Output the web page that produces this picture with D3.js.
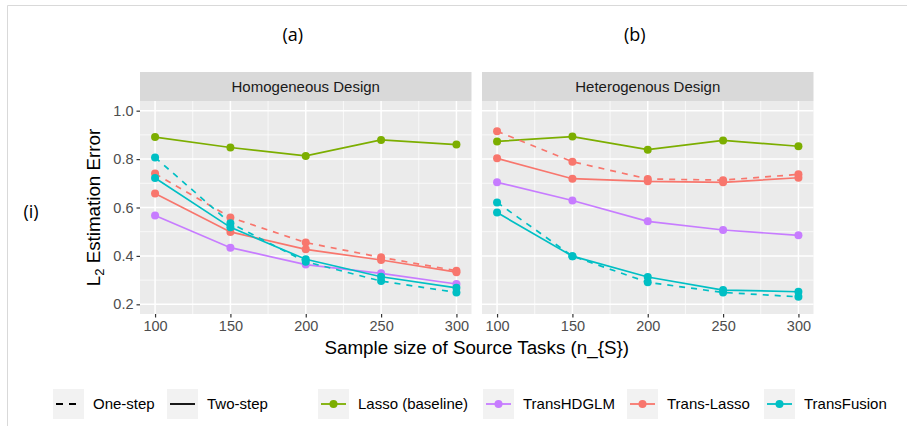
<!DOCTYPE html>
<html>
<head>
<meta charset="utf-8">
<script src="https://cdn.jsdelivr.net/npm/d3@7"></script>
<style>
  body { margin: 0; background: #fff; }
  text { font-family: "Liberation Sans", Arial, sans-serif; }
</style>
</head>
<body>
<div id="chart"></div>
<script>
const WIDTH = 907;
const HEIGHT = 426;

// --------------- Data ---------------
const sampleSizes = [100, 150, 200, 250, 300];
const designs = ["Homogeneous Design", "Heterogenous Design"];
const panelTags = ["(a)", "(b)"];
const methods = ["Lasso (baseline)", "TransHDGLM", "Trans-Lasso", "TransFusion"];
const methodColors = ["#7CAE00", "#C77CFF", "#F8766D", "#00BFC4"];
const steps = ["One-step", "Two-step"];
const yTicks = [0.2, 0.4, 0.6, 0.8, 1.0];

// Homogeneous design
const homLasso = [0.891, 0.848, 0.813, 0.879, 0.860];
const homHDGLM = [0.567, 0.434, 0.364, 0.328, 0.284];
const homTransLassoOne = [0.740, 0.559, 0.455, 0.394, 0.339];
const homTransLassoTwo = [0.658, 0.499, 0.427, 0.383, 0.333];
const homFusionOne = [0.807, 0.535, 0.376, 0.296, 0.249];
const homFusionTwo = [0.722, 0.518, 0.386, 0.314, 0.268];

// Heterogenous design
const hetLasso = [0.873, 0.893, 0.839, 0.877, 0.853];
const hetHDGLM = [0.704, 0.629, 0.543, 0.507, 0.485];
const hetTransLassoOne = [0.915, 0.789, 0.718, 0.713, 0.737];
const hetTransLassoTwo = [0.803, 0.719, 0.708, 0.704, 0.723];
const hetFusionOne = [0.621, 0.399, 0.291, 0.249, 0.231];
const hetFusionTwo = [0.579, 0.399, 0.313, 0.259, 0.252];

// series table built from the arrays above: [panel, method, step, values]
const series = [
  [0, 0, 1, homLasso],
  [0, 1, 1, homHDGLM],
  [0, 2, 0, homTransLassoOne],
  [0, 2, 1, homTransLassoTwo],
  [0, 3, 0, homFusionOne],
  [0, 3, 1, homFusionTwo],
  [1, 0, 1, hetLasso],
  [1, 1, 1, hetHDGLM],
  [1, 2, 0, hetTransLassoOne],
  [1, 2, 1, hetTransLassoTwo],
  [1, 3, 0, hetFusionOne],
  [1, 3, 1, hetFusionTwo]
];

// --------------- Layout ---------------
const PANEL_X = [140, 482];
const PANEL_W = 331.5;
const STRIP_TOP = 72;
const PANEL_TOP = 101;
const PANEL_BOTTOM = 314;
const DASH = "6,6";

const svg = d3.select("#chart")
  .append("svg")
  .attr("width", WIDTH)
  .attr("height", HEIGHT);

// outer frame (top and left only)
svg.append("path")
  .attr("d", `M7.5,${HEIGHT} V5.5 H${WIDTH}`)
  .attr("fill", "none")
  .attr("stroke", "#d9d9d9")
  .attr("stroke-width", 1);

const y = d3.scaleLinear().domain([0.16, 1.04]).range([PANEL_BOTTOM, PANEL_TOP]);

const line = d3.line()
  .x(d => d[0])
  .y(d => y(d[1]));

designs.forEach((name, p) => {
  const x = d3.scaleLinear()
    .domain([90, 310])
    .range([PANEL_X[p], PANEL_X[p] + PANEL_W]);

  const g = svg.append("g");

  // panel background
  g.append("rect")
    .attr("x", PANEL_X[p]).attr("y", PANEL_TOP)
    .attr("width", PANEL_W).attr("height", PANEL_BOTTOM - PANEL_TOP)
    .attr("fill", "#EBEBEB");

  // minor grid
  const xMinor = [125, 175, 225, 275];
  const yMinor = [0.3, 0.5, 0.7, 0.9];
  g.append("g").selectAll("line").data(xMinor).enter().append("line")
    .attr("x1", d => x(d)).attr("x2", d => x(d))
    .attr("y1", PANEL_TOP).attr("y2", PANEL_BOTTOM)
    .attr("stroke", "#fff").attr("stroke-width", 0.7);
  g.append("g").selectAll("line").data(yMinor).enter().append("line")
    .attr("x1", PANEL_X[p]).attr("x2", PANEL_X[p] + PANEL_W)
    .attr("y1", d => y(d)).attr("y2", d => y(d))
    .attr("stroke", "#fff").attr("stroke-width", 0.7);

  // major grid
  g.append("g").selectAll("line").data(sampleSizes).enter().append("line")
    .attr("x1", d => x(d)).attr("x2", d => x(d))
    .attr("y1", PANEL_TOP).attr("y2", PANEL_BOTTOM)
    .attr("stroke", "#fff").attr("stroke-width", 1.5);
  g.append("g").selectAll("line").data(yTicks).enter().append("line")
    .attr("x1", PANEL_X[p]).attr("x2", PANEL_X[p] + PANEL_W)
    .attr("y1", d => y(d)).attr("y2", d => y(d))
    .attr("stroke", "#fff").attr("stroke-width", 1.5);

  // strip
  g.append("rect")
    .attr("x", PANEL_X[p]).attr("y", STRIP_TOP)
    .attr("width", PANEL_W).attr("height", PANEL_TOP - STRIP_TOP)
    .attr("fill", "#D9D9D9");
  g.append("text")
    .attr("x", PANEL_X[p] + PANEL_W / 2)
    .attr("y", (STRIP_TOP + PANEL_TOP) / 2 + 5)
    .attr("text-anchor", "middle")
    .attr("font-size", 15)
    .attr("fill", "#1A1A1A")
    .text(name);

  // panel tag above
  g.append("text")
    .attr("x", PANEL_X[p] + PANEL_W / 2 - 13)
    .attr("y", 41)
    .attr("text-anchor", "middle")
    .style("font-family", "'Open Sans', 'Noto Sans', sans-serif")
    .attr("font-size", 18)
    .attr("fill", "#000")
    .text(panelTags[p]);

  // x axis
  const xAxis = d3.axisBottom(x)
    .tickValues(sampleSizes)
    .tickSize(3.5)
    .tickPadding(3);
  const ax = g.append("g")
    .attr("transform", `translate(0,${PANEL_BOTTOM})`)
    .call(xAxis);
  ax.select(".domain").remove();
  ax.selectAll(".tick line").attr("stroke", "#333").attr("stroke-width", 1.2);
  ax.selectAll(".tick text")
    .attr("font-size", 14.5)
    .attr("fill", "#4D4D4D")
    .style("font-family", "'Liberation Sans', Arial, sans-serif");

  // data lines and points
  const panelSeries = series.filter(s => s[0] === p);
  g.append("g").selectAll("path").data(panelSeries).enter().append("path")
    .attr("d", s => line(sampleSizes.map((n, i) => [x(n), s[3][i]])))
    .attr("fill", "none")
    .attr("stroke", s => methodColors[s[1]])
    .attr("stroke-width", 1.7)
    .attr("stroke-dasharray", s => s[2] === 0 ? DASH : null);

  panelSeries.forEach(s => {
    g.append("g").selectAll("circle").data(s[3]).enter().append("circle")
      .attr("cx", (v, i) => x(sampleSizes[i]))
      .attr("cy", v => y(v))
      .attr("r", 4)
      .attr("fill", methodColors[s[1]]);
  });
});

// y axis (left panel only)
const yAxis = d3.axisLeft(y)
  .tickValues(yTicks)
  .tickFormat(d3.format(".1f"))
  .tickSize(3.5)
  .tickPadding(3);
const ay = svg.append("g")
  .attr("transform", `translate(${PANEL_X[0]},0)`)
  .call(yAxis);
ay.select(".domain").remove();
ay.selectAll(".tick line").attr("stroke", "#333").attr("stroke-width", 1.2);
ay.selectAll(".tick text")
  .attr("font-size", 14.5)
  .attr("fill", "#4D4D4D")
  .style("font-family", "'Liberation Sans', Arial, sans-serif");

// axis titles
svg.append("text")
  .attr("x", (PANEL_X[0] + PANEL_X[1] + PANEL_W) / 2)
  .attr("y", 354)
  .attr("text-anchor", "middle")
  .attr("font-size", 18.8)
  .attr("fill", "#000")
  .text("Sample size of Source Tasks (n_{S})");

const yTitle = svg.append("text")
  .attr("transform", `translate(100,${(PANEL_TOP + PANEL_BOTTOM) / 2}) rotate(-90)`)
  .attr("text-anchor", "middle")
  .attr("font-size", 18.8)
  .attr("fill", "#000");
yTitle.append("tspan").text("L");
yTitle.append("tspan").attr("font-size", 13).attr("dy", 4).text("2");
yTitle.append("tspan").attr("dy", -4).text(" Estimation Error");

// row tag
svg.append("text")
  .attr("x", 31)
  .attr("y", 218)
  .attr("text-anchor", "middle")
  .style("font-family", "'Open Sans', 'Noto Sans', sans-serif")
  .attr("font-size", 18)
  .attr("fill", "#000")
  .text("(i)");

// --------------- Legend ---------------
const KEY_W = 31;
const KEY_H = 30;
const KEY_TOP = 389;
const legendY = KEY_TOP + KEY_H / 2;

const stepKeys = [53, 167];
steps.forEach((label, i) => {
  const kx = stepKeys[i];
  svg.append("rect")
    .attr("x", kx).attr("y", KEY_TOP)
    .attr("width", KEY_W).attr("height", KEY_H)
    .attr("fill", "#F2F2F2");
  svg.append("line")
    .attr("x1", kx + 3).attr("x2", kx + KEY_W - 3)
    .attr("y1", legendY).attr("y2", legendY)
    .attr("stroke", "#000")
    .attr("stroke-width", 1.8)
    .attr("stroke-dasharray", i === 0 ? "7,6" : null);
  svg.append("text")
    .attr("x", kx + KEY_W + 9)
    .attr("y", legendY + 5)
    .attr("font-size", 15)
    .attr("fill", "#000")
    .text(label);
});

const methodKeys = [318, 483, 627, 764];
methods.forEach((label, i) => {
  const kx = methodKeys[i];
  svg.append("rect")
    .attr("x", kx).attr("y", KEY_TOP)
    .attr("width", KEY_W).attr("height", KEY_H)
    .attr("fill", "#F2F2F2");
  svg.append("line")
    .attr("x1", kx + 3).attr("x2", kx + KEY_W - 3)
    .attr("y1", legendY).attr("y2", legendY)
    .attr("stroke", methodColors[i])
    .attr("stroke-width", 1.8);
  svg.append("circle")
    .attr("cx", kx + KEY_W / 2).attr("cy", legendY)
    .attr("r", 4)
    .attr("fill", methodColors[i]);
  svg.append("text")
    .attr("x", kx + KEY_W + 9)
    .attr("y", legendY + 5)
    .attr("font-size", 15)
    .attr("fill", "#000")
    .text(label);
});
</script>
</body>
</html>
